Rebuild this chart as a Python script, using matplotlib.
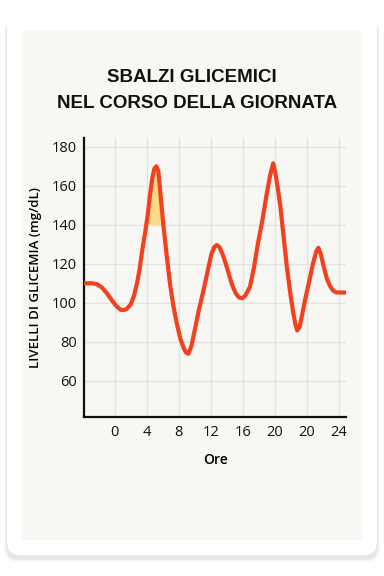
import matplotlib
matplotlib.use("Agg")
import matplotlib.pyplot as plt
from matplotlib.patches import FancyBboxPatch, Rectangle
from matplotlib import font_manager
import numpy as np

# glucose curve (x in plot units, 4 units per tick)
ore = [-3.8, -2.8, -2.2, -1.6, -1.0, -0.4, 0.2, 0.7, 1.1, 1.5, 2.0, 2.4, 2.8,
       3.1, 3.45, 3.8, 4.1, 4.4, 4.7, 4.95, 5.2, 5.45, 5.8, 6.1, 6.5, 6.9,
       7.3, 7.75, 8.2, 8.6, 8.9, 9.2, 9.6, 10.0, 10.5, 11.1, 11.6, 12.1,
       12.45, 12.75, 13.1, 13.6, 14.1, 14.6, 15.1, 15.5, 15.9, 16.3, 16.9,
       17.4, 17.9, 18.5, 19.0, 19.4, 19.8, 20.1, 20.4, 20.7, 21.1, 21.5,
       21.9, 22.3, 22.6, 22.8, 23.1, 23.4, 23.8, 24.3, 24.8, 25.2, 25.45,
       25.75, 26.1, 26.5, 26.9, 27.3, 27.7, 28.9]
glicemia = [110, 110, 109.5, 107.8, 105, 101.5, 98.3, 96.5, 96.2, 96.8, 99.2, 103.5, 110.3,
            117, 127.3, 136, 144.4, 155, 164, 168.8, 170, 167.5, 152, 139, 124, 110,
            99, 89.5, 81.5, 77, 74.5, 73.8, 78, 86, 96, 106.5, 116, 125.3,
            128.6, 129.6, 128.5, 123.6, 117, 110, 105, 102.8, 102.3, 103.5, 108.2,
            118, 130.5, 143.5, 156, 165, 171.5, 166, 158, 149.3, 134, 118.8,
            106, 95, 88.5, 85.8, 87.5, 93.5, 101.8, 111, 120.5, 126.5, 128.2,
            125, 118.8, 112.5, 108.6, 106.2, 105.3, 105.2]
soglia = 140
fine_evidenza = 10  # only the first peak is highlighted

tick_pos = [0, 4, 8, 12, 16, 20, 24, 28]
tick_lab = ['0', '4', '8', '12', '16', '20', '20', '24']
y_ticks = [60, 80, 100, 120, 140, 160, 180]

names = {f.name for f in font_manager.fontManager.ttflist}
title_font = 'Liberation Sans Narrow' if 'Liberation Sans Narrow' in names else 'Liberation Sans'
plt.rcParams['font.family'] = ['Open Sans', 'DejaVu Sans']

W, H = 384, 576
fig = plt.figure(figsize=(W/100, H/100), dpi=100)
fig.patch.set_facecolor('white')

def fx(px): return px / W
def fy(py): return 1 - py / H

# soft shadow below the card, then card and inner panel
for i, a in enumerate([0.02, 0.03, 0.045]):
    g = 3 - i
    fig.patches.append(FancyBboxPatch((fx(7 - g), fy(559 + g)), fx(370 + 2*g), (540 + g)/H,
                                      boxstyle="round,pad=0,rounding_size=0.035",
                                      transform=fig.transFigure, facecolor='black', alpha=a,
                                      edgecolor='none', zorder=0, mutation_aspect=W/H))
fig.patches.append(FancyBboxPatch((fx(7), fy(555)), fx(370), 540/H,
                                  boxstyle="round,pad=0,rounding_size=0.035",
                                  transform=fig.transFigure, facecolor='white',
                                  edgecolor='none', zorder=1, mutation_aspect=W/H))
fig.patches.append(Rectangle((fx(22), fy(540)), fx(340), 509/H, transform=fig.transFigure,
                             facecolor='#F8F7F3', edgecolor='none', zorder=2))

fig.text(0.5, fy(77), 'SBALZI GLICEMICI', ha='center', va='center', fontsize=13.5,
         fontweight='bold', family=title_font, color='#111111')
fig.text(0.513, fy(104), 'NEL CORSO DELLA GIORNATA', ha='center', va='center', fontsize=13.5,
         fontweight='bold', family=title_font, color='#111111')

ax = fig.add_axes([fx(84), fy(417), fx(346) - fx(84), (417 - 138)/H])
ax.set_facecolor('none')
ax.set_zorder(3)

x = np.array(ore)
y = np.array(glicemia)
ax.fill_between(x, soglia, y, where=(y >= soglia) & (x < fine_evidenza), interpolate=True,
                color='#FDD98C', linewidth=0, zorder=2)
ax.plot(x, y, color='#F4401F', lw=3.0, solid_joinstyle='round', solid_capstyle='round', zorder=3)

ax.set_xlim(-3.84, 28.9)
ax.set_ylim(41.4, 184.5)
ax.set_xticks(tick_pos, tick_lab)
ax.set_yticks(y_ticks)
ax.grid(color='#E3E3E0', lw=1.0)
ax.tick_params(length=0, labelsize=10.5, colors='#111111', pad=6)
ax.tick_params(axis='y', pad=5)
for s in ['top', 'right']:
    ax.spines[s].set_visible(False)
for s in ['left', 'bottom']:
    ax.spines[s].set_linewidth(1.6)
    ax.spines[s].set_color('#111111')

ax.set_xlabel('Ore', fontsize=10, fontweight='semibold', labelpad=9)
ax.set_ylabel('LIVELLI DI GLICEMIA (mg/dL)', fontsize=9.5, fontweight='semibold', labelpad=7)

fig.savefig('out.png', dpi=100, facecolor=fig.get_facecolor())
